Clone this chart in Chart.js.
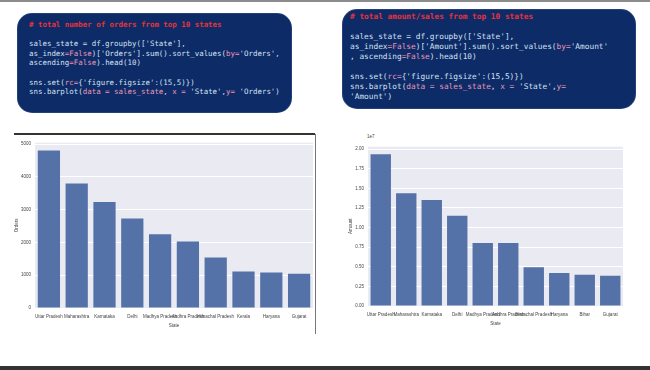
<!DOCTYPE html>
<html>
<head>
<meta charset="utf-8">
<script src="https://cdn.jsdelivr.net/npm/chart.js@4"></script>
<style>
  body { margin: 0; width: 650px; height: 370px; background: #fff; position: relative; overflow: hidden; }
  .topbar { position: absolute; left: 0; top: 0; width: 650px; height: 2px; background: #8c8c8c; }
  .bottombar { position: absolute; left: 0; top: 366px; width: 650px; height: 4px; background: #333; }
  .code {
    position: absolute; margin: 0; background: #0d2b66; border-radius: 14px;
    color: #d3e0f3; font-family: "DejaVu Sans Mono", monospace; white-space: pre;
    box-shadow: 0 0 0 1px #23407a;
  }
  .c { color: #e8323c; font-weight: bold; }
  .p { color: #e897ba; }
  .frame-h { position: absolute; left: 14px; top: 133px; width: 301px; height: 2px; background: #333; }
  .frame-v { position: absolute; left: 315px; top: 134px; width: 1px; height: 200px; background: #777; }
  canvas { position: absolute; }
  .offset { position: absolute; left: 367px; top: 134px; font: 4.5px "Liberation Sans", sans-serif; color: #444; }
</style>
</head>
<body>
<div class="topbar"></div>
<pre class="code" style="left:18px;top:14px;width:262px;height:84px;padding:6px 0 8px 11px;font-size:7.45px;line-height:9.6px;"><span class="c"># total number of orders from top 10 states</span>

sales_state = df.groupby(['State'],
as_index<span class="p">=False</span>)['Orders'].sum().sort_values(<span class="p">by=</span>'Orders',
ascending<span class="p">=False</span>).head(10)

sns.set(<span class="p">rc=</span>{'figure.figsize':(15,5)})
sns.barplot(<span class="p">data = sales_state</span>, <span class="p">x =</span> 'State',<span class="p">y=</span> 'Orders')</pre>
<pre class="code" style="left:343px;top:10px;width:285px;height:88px;padding:2px 0 8px 7px;font-size:7.8px;line-height:10px;"><span class="c"># total amount/sales from top 10 states</span>

sales_state = df.groupby(['State'],
as_index<span class="p">=False</span>)['Amount'].sum().sort_values(<span class="p">by=</span>'Amount'
, ascending<span class="p">=False</span>).head(10)

sns.set(<span class="p">rc=</span>{'figure.figsize':(15,5)})
sns.barplot(<span class="p">data = sales_state</span>, <span class="p">x =</span> 'State',<span class="p">y=</span>
'Amount')</pre>

<div class="frame-h"></div>
<div class="frame-v"></div>
<canvas id="ordersChart" width="301" height="192" style="left:14px;top:136px;"></canvas>
<canvas id="amountChart" width="277" height="186" style="left:348px;top:140px;"></canvas>
<div class="offset">1e7</div>
<div class="bottombar"></div>

<script>
// top 10 states by orders
const orderStates = ['Uttar Pradesh', 'Maharashtra', 'Karnataka', 'Delhi', 'Madhya Pradesh',
  'Andhra Pradesh', 'Himachal Pradesh', 'Kerala', 'Haryana', 'Gujarat'];
const orderValues = [4800, 3795, 3230, 2730, 2250, 2030, 1540, 1110, 1085, 1045];
const orderTicks = [0, 1000, 2000, 3000, 4000, 5000];

// top 10 states by amount
const amountStates = ['Uttar Pradesh', 'Maharashtra', 'Karnataka', 'Delhi', 'Madhya Pradesh',
  'Andhra Pradesh', 'Himachal Pradesh', 'Haryana', 'Bihar', 'Gujarat'];
const amountValues = [19340000, 14370000, 13500000, 11510000, 8030000, 8020000, 4930000, 4220000, 3980000, 3850000];
const amountTicks = [0, 2500000, 5000000, 7500000, 10000000, 12500000, 15000000, 17500000, 20000000];

const barColor = '#5572a8';
const tickFont = { family: '"Liberation Sans", sans-serif', size: 4.5 };

const plotBg = {
  id: 'plotBg',
  beforeDraw(chart) {
    const a = chart.chartArea;
    const ctx = chart.ctx;
    ctx.save();
    ctx.fillStyle = '#eaeaf2';
    ctx.fillRect(a.left, a.top, a.right - a.left, a.bottom - a.top);
    ctx.restore();
  }
};

function makeChart(id, labels, values, ticks, yMax, yTitle, yWidth, fmt) {
  return new Chart(document.getElementById(id).getContext('2d'), {
    type: 'bar',
    data: {
      labels: labels,
      datasets: [{
        data: values,
        backgroundColor: barColor,
        barPercentage: 0.8,
        categoryPercentage: 1.0
      }]
    },
    options: {
      responsive: false,
      animation: false,
      layout: { padding: { top: 2, right: 2 } },
      plugins: { legend: { display: false }, tooltip: { enabled: false } },
      scales: {
        x: {
          grid: { display: false, drawTicks: false },
          border: { display: false },
          ticks: { font: tickFont, color: '#444', autoSkip: false, maxRotation: 0, padding: 6 },
          title: { display: true, text: 'State', font: tickFont, color: '#444', padding: { top: 0, bottom: 0 } },
          afterFit: s => { s.height = 20; }
        },
        y: {
          min: 0,
          max: yMax,
          grid: { color: '#ffffff', lineWidth: 1, drawTicks: false },
          border: { display: false },
          afterBuildTicks: s => { s.ticks = ticks.map(v => ({ value: v })); },
          ticks: { font: tickFont, color: '#444', padding: 4, callback: fmt },
          title: { display: true, text: yTitle, font: tickFont, color: '#444', padding: 0 },
          afterFit: s => { s.width = yWidth; }
        }
      }
    },
    plugins: [plotBg]
  });
}

makeChart('ordersChart', orderStates, orderValues, orderTicks, 5040, 'Orders', 21, v => String(v));
makeChart('amountChart', amountStates, amountValues, amountTicks, 20300000, 'Amount', 20, v => (v / 1e7).toFixed(2));
</script>
</body>
</html>
